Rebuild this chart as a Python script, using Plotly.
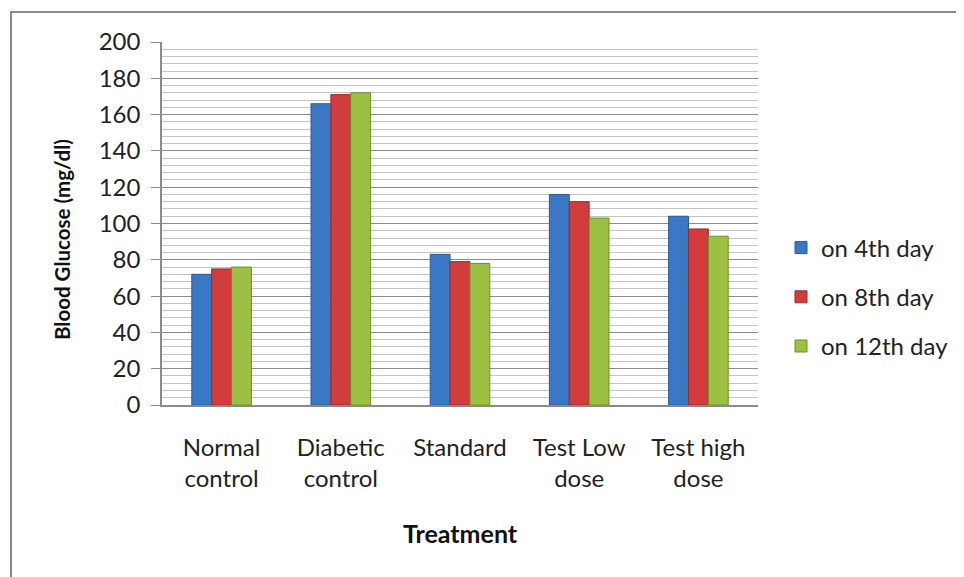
import plotly.graph_objects as go

categories = ["Normal<br>control", "Diabetic<br>control", "Standard", "Test Low<br>dose", "Test high<br>dose"]
series_names = ["on 4th day", "on 8th day", "on 12th day"]
day4 = [72, 166, 83, 116, 104]
day8 = [75, 171, 79, 112, 97]
day12 = [76, 172, 78, 103, 93]
y_ticks = [0, 20, 40, 60, 80, 100, 120, 140, 160, 180, 200]

colors = ["#3a78c6", "#d23c3c", "#9cc044"]
edges = ["#2a5a98", "#9a2a2a", "#6e8e2a"]

FONT = "Lato, Carlito, Calibri, sans-serif"

fig = go.Figure()
for i, (name, vals) in enumerate(zip(series_names, [day4, day8, day12])):
    fig.add_trace(go.Bar(
        x=categories, y=vals, name=name,
        marker=dict(color=colors[i], line=dict(color=edges[i], width=1)),
        legendgroup=name,
    ))

# page body has an 8px margin; work in screen pixels and subtract it
OFF = 8
W, H = 964 - OFF, 577 - OFF
PX0, PX1, PY0, PY1 = 162, 758, 42, 405  # plot area in screen px
L, T = PX0 - OFF, PY0 - OFF
R = W - (PX1 - OFF)
B = H - (PY1 - OFF)
pw, ph = PX1 - PX0, PY1 - PY0

def px_x(x):
    return (x - PX0) / pw

def px_y(y):
    return (PY1 - y) / ph

fig.update_layout(
    width=W, height=H,
    margin=dict(l=L, r=R, t=T, b=B, autoexpand=False),
    paper_bgcolor="white", plot_bgcolor="white",
    font=dict(family=FONT, size=24, color="#222222"),
    barmode="group", bargap=0.5, bargroupgap=0,
    showlegend=True,
    legend=dict(x=px_x(781), y=px_y(297), xanchor="left", yanchor="middle",
                font=dict(size=24, family=FONT, color="#222222"),
                tracegroupgap=15, bgcolor="rgba(0,0,0,0)"),
    xaxis=dict(showline=True, linecolor="#8a8a8a", linewidth=1.5,
               tickfont=dict(size=24), ticks="", ticklabelstandoff=20,
               fixedrange=True),
    yaxis=dict(range=[0, 200], tickvals=y_ticks, showline=True, linecolor="#8a8a8a",
               linewidth=1.5, ticks="outside", ticklen=9, tickcolor="#8a8a8a",
               showgrid=True, gridcolor="#8c8c8c", gridwidth=1,
               minor=dict(dtick=4, showgrid=True, gridcolor="#c4c4c4", gridwidth=1, ticks=""),
               tickfont=dict(size=24), ticklabelstandoff=6, zeroline=False),
    shapes=[dict(type="rect", xref="paper", yref="paper",
                 x0=px_x(11), x1=px_x(990), y0=px_y(600), y1=px_y(12),
                 line=dict(color="#8a8a8a", width=2), layer="below")],
    annotations=[
        dict(text="<b>Treatment</b>", xref="paper", yref="paper",
             x=px_x(460), y=px_y(533), xanchor="center", yanchor="middle",
             showarrow=False, font=dict(size=25, family=FONT, color="#111111")),
        dict(text="<b>Blood Glucose (mg/dl)</b>", xref="paper", yref="paper",
             x=px_x(62), y=px_y(240), xanchor="center", yanchor="middle",
             showarrow=False, textangle=-90,
             font=dict(size=20.5, family=FONT, color="#111111")),
    ],
)

fig.write_html("out.html")
